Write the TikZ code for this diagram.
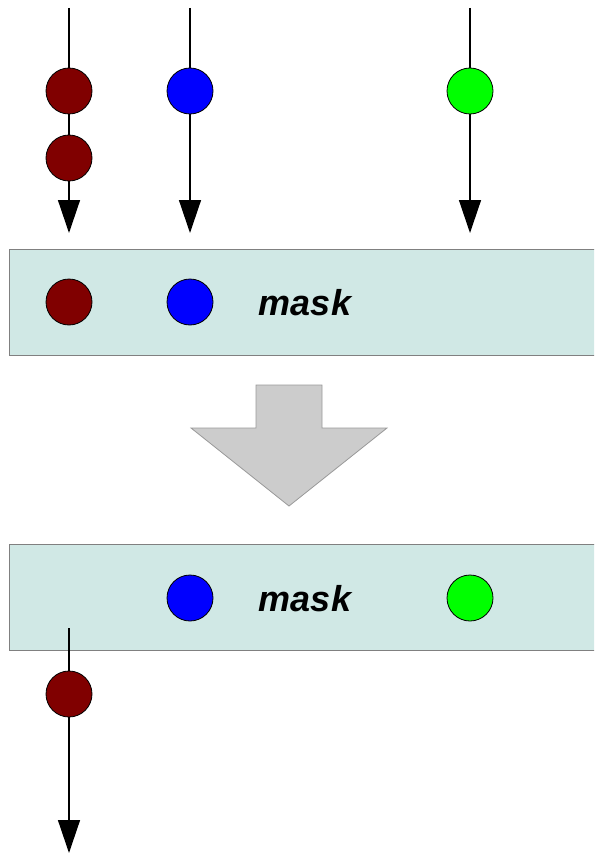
\documentclass[tikz,border=0pt]{standalone}
\usepackage{fontspec}
\usepackage{tikz}
\usetikzlibrary{arrows.meta}
\newfontfamily\maskfont{Liberation Sans}

\definecolor{bead1}{HTML}{800000}
\definecolor{bead2}{HTML}{0000FF}
\definecolor{bead3}{HTML}{00FF00}
\definecolor{maskfill}{HTML}{D0E8E5}
\definecolor{maskline}{HTML}{808080}
\definecolor{stepfill}{HTML}{CCCCCC}
\definecolor{stepline}{HTML}{999999}

\begin{document}
\begin{tikzpicture}[x=1pt,y=-1pt]
  \tikzset{BEAD/.style={circle, draw=black, line width=0.8pt, minimum size=46pt, inner sep=0pt} }
  \tikzset{MASK/.style={draw=maskline, fill=maskfill, line width=0.8pt} }
  \tikzset{FLOW/.style={line width=1.4pt, -{Triangle[width=22pt,length=33pt]}} }
  \tikzset{LBL/.style={font=\maskfont\bfseries\itshape\fontsize{36}{40}\selectfont} }

  \clip (0,0) rectangle (594,853);

  % input lanes
  \coordinate (top1) at (69,8);
  \coordinate (top2) at (190,8);
  \coordinate (top3) at (470,8);
  \coordinate (tip1) at (69,233);
  \coordinate (tip2) at (190,233);
  \coordinate (tip3) at (470,233);

  \draw[FLOW] (top1) -- (tip1);
  \draw[FLOW] (top2) -- (tip2);
  \draw[FLOW] (top3) -- (tip3);

  \node[BEAD, fill=bead1] (in1a) at (69,91) {};
  \node[BEAD, fill=bead1] (in1b) at (69,158) {};
  \node[BEAD, fill=bead2] (in2) at (190,91) {};
  \node[BEAD, fill=bead3] (in3) at (470,91) {};

  % mask before
  \draw[MASK] (9,249) rectangle (600,355);
  \node[BEAD, fill=bead1] (m1a) at (69,302) {};
  \node[BEAD, fill=bead2] (m1b) at (190,302) {};
  \node[LBL] (lbl1) at (305,303) {mask};

  % step arrow
  \draw[fill=stepfill, draw=stepline, line width=0.8pt]
    (256,385) -- (322,385) -- (322,428) -- (387,428) -- (289,506)
    -- (191,428) -- (256,428) -- cycle;

  % mask after
  \coordinate (out1) at (69,628);
  \coordinate (tip4) at (69,853);
  \draw[MASK] (9,544) rectangle (600,650);
  \node[BEAD, fill=bead2] (m2b) at (190,598) {};
  \node[BEAD, fill=bead3] (m2c) at (470,598) {};
  \node[LBL] (lbl2) at (305,599) {mask};

  \draw[FLOW] (out1) -- (tip4);
  \node[BEAD, fill=bead1] (o1) at (69,694) {};
\end{tikzpicture}
\end{document}
